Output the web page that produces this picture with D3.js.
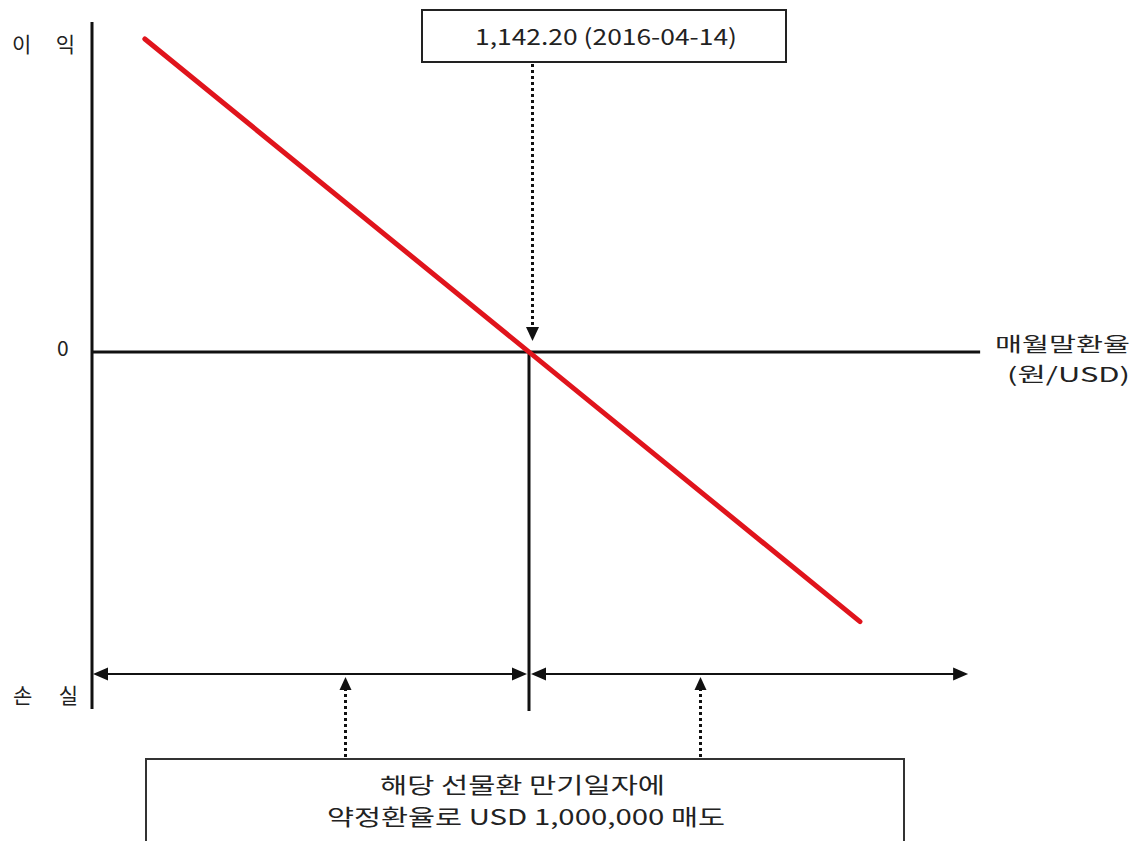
<!DOCTYPE html>
<html>
<head>
<meta charset="utf-8">
<script src="https://cdn.jsdelivr.net/npm/d3@7"></script>
<style>
  html, body { margin: 0; padding: 0; background: #fff; }
  svg { display: block; }
  text { font-family: "Noto Sans CJK KR", "Noto Sans", sans-serif; fill: #222; }
</style>
</head>
<body>
<svg id="chart" width="1136" height="841"></svg>
<script>
// ---- data ----
const forwardRate = 1142.20;               // 약정환율 (원/USD)
const forwardDate = "2016-04-14";
const lineRates = [1017.2, 1249.9];        // 매월말환율 at the two ends of the pay-off line
const linePnL = [125.0, -107.7];           // 이익/손실 (백만원) at those rates
const axisRateMin = 1000, axisRateMax = 1289;
const axisPnLMax = 131.8, axisPnLMin = -142.6;
const arrowRowPnL = -128.6;
const topLabel = "1,142.20 (2016-04-14)";
const yLabelTop = "이  익";
const yLabelBottom = "손  실";
const zeroLabel = "0";
const xLabelLines = ["매월말환율", "(원/USD)"];
const noteLines = ["해당 선물환 만기일자에", "약정환율로 USD  1,000,000 매도"];
const zoneRates = [1082.3, 1197.8];        // rates where the dotted note arrows point

// ---- scales ----
const x = d3.scaleLinear().domain([axisRateMin, forwardRate]).range([92, 529]);
const y = d3.scaleLinear().domain([0, linePnL[0]]).range([352, 39]);

const svg = d3.select("#chart");
svg.append("rect").attr("width", 1136).attr("height", 841).attr("fill", "#fff");

const black = "#111";

// y axis
svg.append("line")
  .attr("x1", x(axisRateMin)).attr("x2", x(axisRateMin))
  .attr("y1", y(axisPnLMax)).attr("y2", y(axisPnLMin))
  .attr("stroke", black).attr("stroke-width", 3);
// x axis (zero line)
svg.append("line")
  .attr("x1", x(axisRateMin)).attr("x2", x(axisRateMax))
  .attr("y1", y(0)).attr("y2", y(0))
  .attr("stroke", black).attr("stroke-width", 3);
// vertical line at forward rate
svg.append("line")
  .attr("x1", x(forwardRate)).attr("x2", x(forwardRate))
  .attr("y1", y(0)).attr("y2", y(axisPnLMin) + 2)
  .attr("stroke", black).attr("stroke-width", 3);

// pay-off line
const pts = lineRates.map((r, i) => [x(r), y(linePnL[i])]);
svg.append("path")
  .attr("d", d3.line()(pts))
  .attr("stroke", "#e0141c").attr("stroke-width", 5)
  .attr("stroke-linecap", "round").attr("fill", "none");

// helpers
function head(tx, ty, dir, len, half) {
  let p;
  if (dir === 'r') p = [[tx, ty], [tx - len, ty - half], [tx - len, ty + half]];
  if (dir === 'l') p = [[tx, ty], [tx + len, ty - half], [tx + len, ty + half]];
  if (dir === 'u') p = [[tx, ty], [tx - half, ty + len], [tx + half, ty + len]];
  if (dir === 'd') p = [[tx, ty], [tx - half, ty - len], [tx + half, ty - len]];
  svg.append("path").attr("d", "M" + p.map(d => d.join(",")).join("L") + "Z").attr("fill", black);
}

// horizontal range arrows
const ay = y(arrowRowPnL);
[[axisRateMin, forwardRate], [forwardRate, axisRateMax]].forEach(([a, b], i) => {
  const x1 = x(a) + (i === 0 ? 1 : 2), x2 = i === 0 ? x(b) - 2 : x(b) - 12;
  svg.append("line").attr("x1", x1 + 10).attr("x2", x2 - 10).attr("y1", ay).attr("y2", ay)
    .attr("stroke", black).attr("stroke-width", 2.2);
  head(x1, ay, 'l', 15, 6.5);
  head(x2, ay, 'r', 15, 6.5);
});

// top label box
const bx1 = 422, bx2 = 786, by1 = 10, by2 = 62;
svg.append("rect").attr("x", bx1).attr("y", by1).attr("width", bx2 - bx1).attr("height", by2 - by1)
  .attr("fill", "#fff").attr("stroke", "#222").attr("stroke-width", 2);
svg.append("text").attr("x", 475).attr("y", 45)
  .attr("font-size", 22).attr("textLength", 262).attr("lengthAdjust", "spacingAndGlyphs")
  .text(topLabel);

// dotted arrow from top label to break-even
const dx = Math.round(x(forwardRate) + 3) + 0.5;
svg.append("line").attr("x1", dx).attr("x2", dx).attr("y1", by2 + 2).attr("y2", y(0) - 24)
  .attr("stroke", black).attr("stroke-width", 3).attr("stroke-dasharray", "3,3");
head(dx, y(0) - 11, 'd', 14, 6.5);

// bottom note box
const nx1 = 146, nx2 = 904, ny1 = 759;
svg.append("rect").attr("x", nx1).attr("y", ny1).attr("width", nx2 - nx1).attr("height", 100)
  .attr("fill", "#fff").attr("stroke", "#333").attr("stroke-width", 2);
svg.append("text").attr("x", 380).attr("y", 793)
  .attr("font-size", 22).attr("textLength", 285).attr("lengthAdjust", "spacingAndGlyphs")
  .text(noteLines[0]);
svg.append("text").attr("x", 327).attr("y", 825)
  .attr("font-size", 22).attr("textLength", 398).attr("lengthAdjust", "spacingAndGlyphs")
  .text(noteLines[1]);

// dotted arrows from note up to range arrows
zoneRates.forEach(r => {
  const zx = Math.round(x(r)) + 0.5;
  svg.append("line").attr("x1", zx).attr("x2", zx).attr("y1", ny1 - 2).attr("y2", ay + 16)
    .attr("stroke", black).attr("stroke-width", 3).attr("stroke-dasharray", "3,3");
  head(zx, ay + 3, 'u', 13, 6);
});

// axis labels
svg.append("text").attr("x", 12).attr("y", 52)
  .attr("font-size", 21).attr("textLength", 63).attr("lengthAdjust", "spacing")
  .text(yLabelTop);
svg.append("text").attr("x", 13).attr("y", 703)
  .attr("font-size", 21).attr("textLength", 65).attr("lengthAdjust", "spacing")
  .text(yLabelBottom);
svg.append("text").attr("x", 57).attr("y", 356)
  .attr("font-size", 21)
  .text(zeroLabel);
svg.append("text").attr("x", 1130).attr("y", 352).attr("text-anchor", "end")
  .attr("font-size", 20).attr("textLength", 135).attr("lengthAdjust", "spacingAndGlyphs")
  .text(xLabelLines[0]);
svg.append("text").attr("x", 1130).attr("y", 382).attr("text-anchor", "end")
  .attr("font-size", 20).attr("textLength", 123).attr("lengthAdjust", "spacingAndGlyphs")
  .text(xLabelLines[1]);
</script>
</body>
</html>
